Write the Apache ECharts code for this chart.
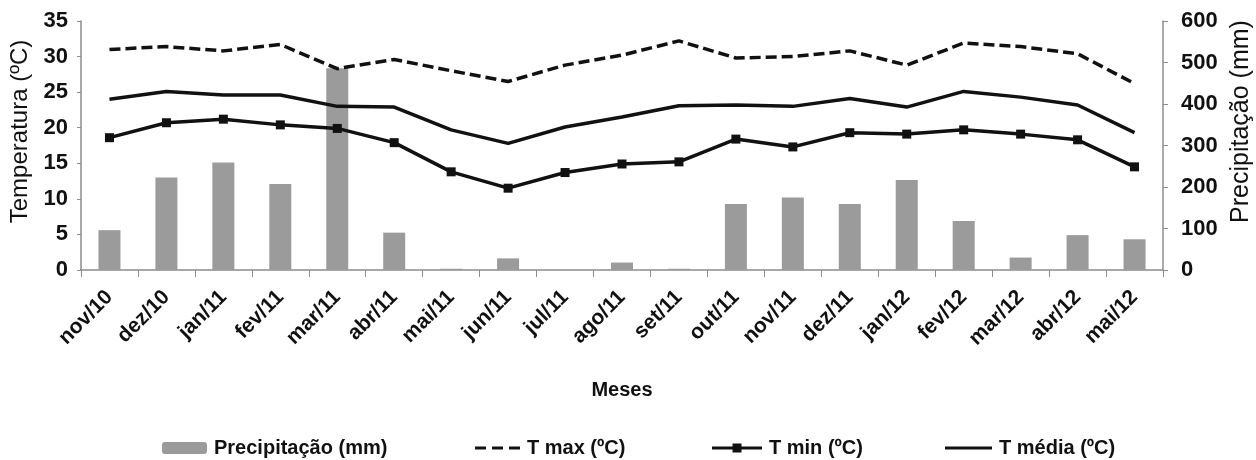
<!DOCTYPE html>
<html>
<head>
<meta charset="utf-8">
<script src="https://cdn.jsdelivr.net/npm/echarts@6/dist/echarts.min.js"></script>
<style>
  html, body { margin: 0; padding: 0; background: #fff; }
  #chart { width: 1256px; height: 460px; }
</style>
</head>
<body>
<div id="chart"></div>
<script>
// meses
var months = ['nov/10', 'dez/10', 'jan/11', 'fev/11', 'mar/11', 'abr/11', 'mai/11', 'jun/11', 'jul/11', 'ago/11',
  'set/11', 'out/11', 'nov/11', 'dez/11', 'jan/12', 'fev/12', 'mar/12', 'abr/12', 'mai/12']

// precipitação (mm)
var precip = [96, 223, 259, 207, 486, 90, 3, 28, 0, 18, 3, 159, 175, 159, 217, 118, 30, 84, 74]

// temperaturas (ºC)
var tMax = [31.0, 31.4, 30.8, 31.7, 28.3, 29.6, 28.0, 26.5, 28.8, 30.2, 32.2, 29.8, 30.0, 30.8, 28.8, 31.9, 31.4, 30.4, 26.2]
var tMin = [18.6, 20.7, 21.2, 20.4, 19.9, 17.9, 13.8, 11.5, 13.7, 14.9, 15.2, 18.4, 17.3, 19.3, 19.1, 19.7, 19.1, 18.3, 14.5]
var tMed = [24.0, 25.1, 24.6, 24.6, 23.0, 22.9, 19.7, 17.8, 20.1, 21.5, 23.1, 23.2, 23.0, 24.1, 22.9, 25.1, 24.3, 23.2, 19.3]

var font = "'Liberation Sans', Arial, sans-serif"
var axisColor = '#8c8c8c'
var barColor = '#9b9b9b'

// ícones da legenda (linha tracejada, linha com quadrado, linha simples)
var iconDash = 'path://M0,4.5h11v3h-11z M17,4.5h11v3h-11z M34,4.5h11v3h-11z'
var iconSquare = 'path://M0,4.5h50v3h-50z M20.5,1.5h9v9h-9z'
var iconLine = 'path://M0,4.5h47v3h-47z'

var myChart = echarts.init(document.getElementById('chart'))

function legendAt(name, left, width, icon) {
  var item = { name: name }
  if (icon) item.icon = icon
  return {
    data: [item],
    left: left,
    top: 433,
    itemWidth: width,
    itemHeight: 12,
    itemGap: 0,
    textStyle: { fontFamily: font, fontSize: 20, fontWeight: 'bold', color: '#111', padding: [0, 0, 0, 2] }
  }
}

var option = {
  animation: false,
  textStyle: { fontFamily: font },
  legend: [
    legendAt('Precipitação (mm)', 157, 45),
    legendAt('T max (ºC)', 470, 45, iconDash),
    legendAt('T min (ºC)', 707, 50, iconSquare),
    legendAt('T média (ºC)', 940, 47, iconLine)
  ],
  grid: {
    left: 81,
    right: 93,
    top: 21,
    bottom: 190,
    outerBoundsMode: 'none'
  },
  xAxis: {
    type: 'category',
    data: months,
    name: 'Meses',
    nameLocation: 'middle',
    nameGap: 110,
    nameTextStyle: { fontFamily: font, fontSize: 20, fontWeight: 'bold', color: '#111' },
    axisLine: { lineStyle: { color: axisColor, width: 1.5 } },
    axisTick: { show: true, length: 7, inside: false, lineStyle: { color: axisColor } },
    axisLabel: {
      interval: 0,
      rotate: 45,
      margin: 24,
      fontFamily: font,
      fontSize: 21,
      fontWeight: 'bold',
      color: '#111'
    }
  },
  yAxis: [{
    type: 'value',
    min: 0,
    max: 35,
    interval: 5,
    name: 'Temperatura (ºC)',
    nameLocation: 'middle',
    nameRotate: 90,
    nameGap: 49,
    nameTextStyle: { fontFamily: font, fontSize: 24, color: '#111', padding: [0, 0, 0, 28] },
    axisLine: { show: true, lineStyle: { color: axisColor, width: 1.5 } },
    axisTick: { show: true, length: 4, lineStyle: { color: axisColor } },
    splitLine: { show: false },
    axisLabel: { margin: 13, fontFamily: font, fontSize: 22, fontWeight: 'bold', color: '#111' }
  }, {
    type: 'value',
    min: 0,
    max: 600,
    interval: 100,
    position: 'right',
    name: 'Precipitação (mm)',
    nameLocation: 'middle',
    nameRotate: 90,
    nameGap: 58,
    nameTextStyle: { fontFamily: font, fontSize: 25, color: '#111', padding: [0, 0, 0, 48] },
    axisLine: { show: true, lineStyle: { color: axisColor, width: 1.5 } },
    axisTick: { show: true, length: 5, lineStyle: { color: axisColor } },
    splitLine: { show: false },
    axisLabel: { margin: 18, fontFamily: font, fontSize: 22, fontWeight: 'bold', color: '#111' }
  }],
  series: [{
    name: 'Precipitação (mm)',
    type: 'bar',
    yAxisIndex: 1,
    barWidth: 22,
    itemStyle: { color: barColor },
    data: precip
  }, {
    name: 'T max (ºC)',
    type: 'line',
    symbol: 'none',
    lineStyle: { color: '#111', width: 3.5, type: [11, 5] },
    itemStyle: { color: '#111' },
    data: tMax
  }, {
    name: 'T min (ºC)',
    type: 'line',
    symbol: 'rect',
    symbolSize: 9,
    lineStyle: { color: '#111', width: 3.5 },
    itemStyle: { color: '#111' },
    data: tMin
  }, {
    name: 'T média (ºC)',
    type: 'line',
    symbol: 'none',
    lineStyle: { color: '#111', width: 3.5 },
    itemStyle: { color: '#111' },
    data: tMed
  }]
}

myChart.setOption(option, true)
</script>
</body>
</html>
